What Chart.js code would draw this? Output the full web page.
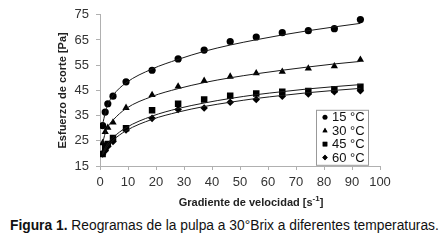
<!DOCTYPE html>
<html>
<head>
<meta charset="utf-8">
<script src="https://cdn.jsdelivr.net/npm/chart.js@4.4.0/dist/chart.umd.min.js"></script>
<style>
  body { margin: 0; background: #fff; }
  #wrap { position: relative; width: 445px; height: 240px; }
  #caption {
    position: absolute; left: 10px; top: 218px;
    font: 13.8px "Liberation Sans", Arial, sans-serif; color: #111;
    white-space: nowrap;
  }
</style>
</head>
<body>
<div id="wrap">
  <canvas id="rheoChart" width="445" height="212"></canvas>
  <div id="caption"><b>Figura 1.</b> Reogramas de la pulpa a 30°Brix a diferentes temperaturas.</div>
</div>
<script>
// Shear rate [1/s] for every measurement
const shearRates = [0.93, 1.86, 2.79, 4.65, 9.3, 18.6, 27.9, 37.2, 46.5, 55.8, 65.1, 74.4, 83.7, 93];

// Measured shear stress [Pa]
const stress15 = [31.0, 36.4, 39.7, 42.7, 48.4, 53.0, 57.5, 61.0, 64.4, 66.2, 67.9, 68.7, 69.5, 73.1];
const stress30 = [24.1, 28.5, 30.2, 32.3, 38.1, 43.2, 46.6, 48.8, 50.5, 51.8, 52.4, 53.7, 54.6, 57.2];
const stress45 = [19.8, 22.2, 23.7, 26.1, 30.0, 37.1, 39.7, 41.4, 42.9, 43.8, 44.5, 44.8, 45.5, 46.4];
const stress60 = [19.8, 21.1, 22.8, 24.7, 29.3, 33.9, 37.4, 38.0, 40.3, 41.4, 42.7, 43.6, 44.5, 44.9];

// Fitted curves
const fit15 = [31.5, 36.0, 39.3, 43.0, 48.0, 53.5, 57.3, 60.5, 63.0, 65.1, 67.0, 68.7, 70.2, 71.6];
const fit30 = [24.0, 28.0, 30.5, 33.2, 37.8, 42.6, 45.7, 48.1, 50.0, 51.6, 53.0, 54.3, 55.5, 56.5];
const fit45 = [20.0, 22.3, 24.0, 26.3, 30.2, 34.8, 37.8, 40.0, 41.8, 43.3, 44.5, 45.6, 46.5, 47.3];
const fit60 = [19.5, 21.4, 23.0, 25.2, 29.0, 33.5, 36.4, 38.6, 40.3, 41.8, 43.0, 44.1, 45.0, 45.8];

const seriesLabels = ['15 °C', '30 °C', '45 °C', '60 °C'];
const yTicks = [15, 25, 35, 45, 55, 65, 75];
const xTicks = [0, 10, 20, 30, 40, 50, 60, 70, 80, 90, 100];

const FONT = '"Liberation Sans", Arial, sans-serif';

function toPoints(values) {
    return shearRates.map((x, i) => ({ x: x, y: values[i] }));
}

const markers = [
    { style: 'circle', radius: 3.6 },
    { style: 'triangle', radius: 4.2 },
    { style: 'rect', radius: 4.6 },
    { style: 'rectRot', radius: 3.8 }
];

const measured = [stress15, stress30, stress45, stress60];
const fitted = [fit15, fit30, fit45, fit60];

const datasets = [];
fitted.forEach((vals, i) => {
    datasets.push({
        label: seriesLabels[i] + ' ajuste',
        data: toPoints(vals),
        showLine: true,
        borderColor: '#1a1a1a',
        borderWidth: 1,
        pointRadius: 0,
        cubicInterpolationMode: 'monotone',
        fill: false
    });
});
measured.forEach((vals, i) => {
    datasets.push({
        label: seriesLabels[i],
        data: toPoints(vals),
        showLine: false,
        pointStyle: markers[i].style,
        pointRadius: markers[i].radius,
        pointBackgroundColor: '#000',
        pointBorderColor: '#000',
        pointBorderWidth: 0
    });
});

// Legend box drawn inside the plot area
const boxLegend = {
    id: 'boxLegend',
    afterDraw(chart) {
        const ctx = chart.ctx;
        const area = chart.chartArea;
        const left = area.right - 64;
        const top = area.top + 95;
        ctx.save();
        ctx.fillStyle = '#fff';
        ctx.fillRect(left, top, 52, 55);
        ctx.strokeStyle = '#999';
        ctx.lineWidth = 1;
        ctx.strokeRect(left + 0.5, top + 0.5, 52, 55);
        ctx.font = '13px ' + FONT;
        ctx.textBaseline = 'middle';
        seriesLabels.forEach((lab, i) => {
            const y = top + 7.5 + i * 13.4;
            Chart.helpers.drawPoint(ctx, {
                pointStyle: markers[i].style,
                radius: markers[i].radius * 0.7,
                rotation: 0,
                borderWidth: 0
            }, left + 9, y);
            ctx.fillStyle = '#000';
            ctx.fill();
            ctx.fillStyle = '#111';
            ctx.fillText(lab, left + 16, y + 0.5);
        });
        ctx.restore();
    }
};

// x axis title, slightly right of axis centre as in the original
const xTitle = {
    id: 'xTitle',
    afterDraw(chart) {
        const ctx = chart.ctx;
        const sx = chart.scales.x;
        ctx.save();
        ctx.font = 'bold 11px ' + FONT;
        ctx.fillStyle = '#222';
        ctx.textBaseline = 'middle';
        const cx = (sx.left + sx.right) / 2 + 11;
        const text = 'Gradiente de velocidad [s';
        const sup = '-1';
        const close = ']';
        const w1 = ctx.measureText(text).width;
        ctx.font = 'bold 8px ' + FONT;
        const w2 = ctx.measureText(sup).width;
        ctx.font = 'bold 11px ' + FONT;
        const w3 = ctx.measureText(close).width;
        let x = cx - (w1 + w2 + w3) / 2;
        const y = sx.bottom - 9;
        ctx.textAlign = 'left';
        ctx.fillText(text, x, y);
        x += w1;
        ctx.font = 'bold 8px ' + FONT;
        ctx.fillText(sup, x, y - 4);
        x += w2;
        ctx.font = 'bold 11px ' + FONT;
        ctx.fillText(close, x, y);
        ctx.restore();
    }
};

const ctx = document.getElementById('rheoChart').getContext('2d');
new Chart(ctx, {
    type: 'scatter',
    data: { datasets: datasets },
    options: {
        responsive: false,
        animation: false,
        layout: { padding: { left: 0, top: 12, right: 65, bottom: 0 } },
        plugins: {
            legend: { display: false },
            tooltip: { enabled: false }
        },
        scales: {
            x: {
                type: 'linear',
                min: 0,
                max: 100,
                afterBuildTicks: axis => { axis.ticks = xTicks.map(v => ({ value: v })); },
                afterFit: axis => { axis.height = 46; },
                ticks: { color: '#333', font: { family: FONT, size: 13 }, padding: 5, maxRotation: 0 },
                grid: { drawOnChartArea: false, drawTicks: true, tickLength: 4, color: '#b0b0b0' },
                border: { color: '#b0b0b0' }
            },
            y: {
                type: 'linear',
                min: 15,
                max: 75,
                afterBuildTicks: axis => { axis.ticks = yTicks.map(v => ({ value: v })); },
                afterFit: axis => { axis.width = 100; },
                ticks: { color: '#333', font: { family: FONT, size: 13 }, padding: 7 },
                grid: { drawOnChartArea: false, drawTicks: true, tickLength: 4, color: '#b0b0b0' },
                border: { color: '#b0b0b0' },
                title: {
                    display: true,
                    text: 'Esfuerzo de corte [Pa]',
                    color: '#222',
                    font: { family: FONT, size: 11, weight: 'bold' },
                    padding: { top: 56, bottom: 0 }
                }
            }
        }
    },
    plugins: [boxLegend, xTitle]
});
</script>
</body>
</html>
